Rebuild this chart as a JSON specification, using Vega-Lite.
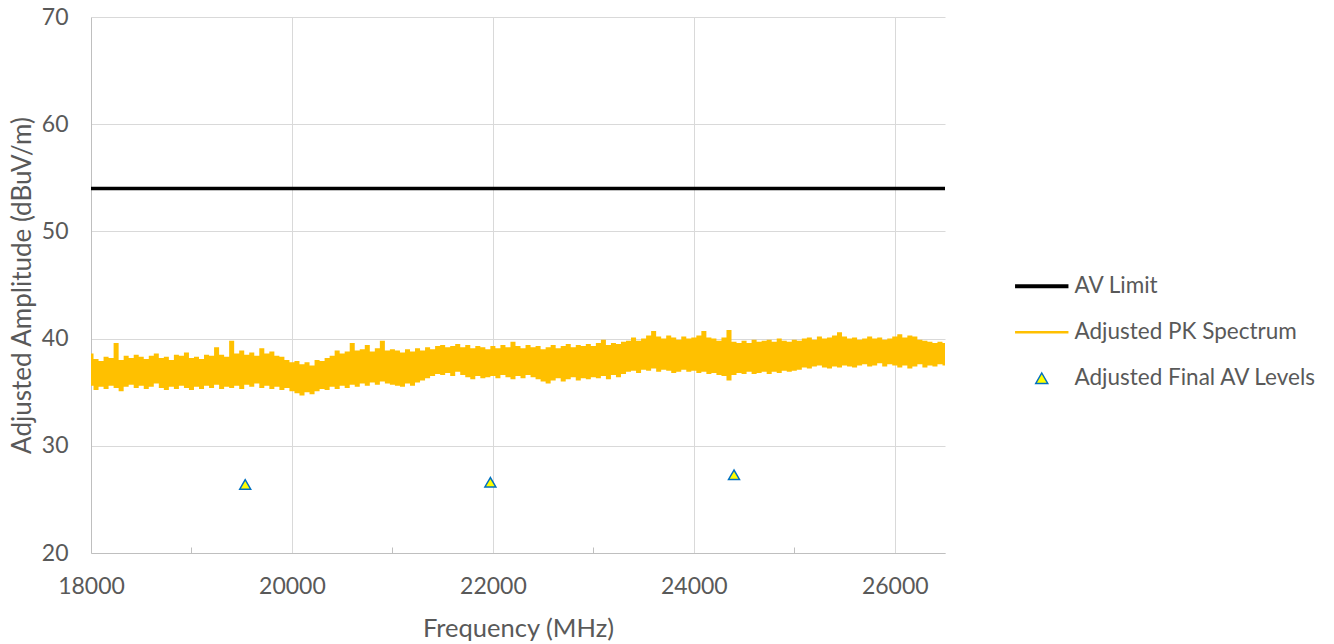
{
  "$schema": "https://vega.github.io/schema/vega-lite/v6.json",
  "width": 854,
  "height": 536,
  "autosize": {"type": "none"},
  "padding": {"left": 91, "top": 17, "right": 389, "bottom": 91},
  "config": {
    "font": "Lato",
    "view": {"stroke": null},
    "legend": {
      "orient": "none",
      "legendX": 939.5,
      "legendY": 258,
      "padding": 0,
      "symbolSize": 900,
      "rowPadding": 23,
      "labelOffset": 21.5,
      "labelFontSize": 22.5,
      "labelColor": "#595959",
      "labelLimit": 400,
      "symbolStrokeWidth": 1.5
    }
  },
  "datasets": {
    "spectrum": [
      {"f":18000,"lo":35.6,"hi":38.6},{"f":18050,"lo":35.2,"hi":38.1},{"f":18100,"lo":35.5,"hi":37.9},{"f":18150,"lo":35.3,"hi":38.3},
      {"f":18200,"lo":35.6,"hi":38.2},{"f":18250,"lo":35.4,"hi":39.6},{"f":18300,"lo":35.1,"hi":38.0},{"f":18350,"lo":35.5,"hi":38.4},
      {"f":18400,"lo":35.7,"hi":38.2},{"f":18450,"lo":35.4,"hi":38.5},{"f":18500,"lo":35.6,"hi":38.3},{"f":18550,"lo":35.3,"hi":38.1},
      {"f":18600,"lo":35.5,"hi":38.4},{"f":18650,"lo":35.8,"hi":38.6},{"f":18700,"lo":35.4,"hi":38.2},{"f":18750,"lo":35.2,"hi":38.3},
      {"f":18800,"lo":35.5,"hi":38.0},{"f":18850,"lo":35.3,"hi":38.5},{"f":18900,"lo":35.6,"hi":38.4},{"f":18950,"lo":35.4,"hi":38.7},
      {"f":19000,"lo":35.2,"hi":38.2},{"f":19050,"lo":35.5,"hi":38.3},{"f":19100,"lo":35.3,"hi":38.1},{"f":19150,"lo":35.6,"hi":38.5},
      {"f":19200,"lo":35.4,"hi":38.4},{"f":19250,"lo":35.7,"hi":39.2},{"f":19300,"lo":35.3,"hi":38.5},{"f":19350,"lo":35.5,"hi":38.3},
      {"f":19400,"lo":35.4,"hi":39.8},{"f":19450,"lo":35.6,"hi":38.6},{"f":19500,"lo":35.3,"hi":38.9},{"f":19550,"lo":35.7,"hi":38.5},
      {"f":19600,"lo":35.5,"hi":38.7},{"f":19650,"lo":35.8,"hi":38.4},{"f":19700,"lo":35.4,"hi":39.1},{"f":19750,"lo":35.6,"hi":38.6},
      {"f":19800,"lo":35.3,"hi":38.8},{"f":19850,"lo":35.5,"hi":38.4},{"f":19900,"lo":35.2,"hi":38.3},{"f":19950,"lo":35.4,"hi":38.0},
      {"f":20000,"lo":35.1,"hi":37.8},{"f":20050,"lo":34.9,"hi":37.9},{"f":20100,"lo":34.7,"hi":37.6},{"f":20150,"lo":35.0,"hi":37.8},
      {"f":20200,"lo":34.8,"hi":37.5},{"f":20250,"lo":35.1,"hi":38.0},{"f":20300,"lo":35.3,"hi":37.9},{"f":20350,"lo":35.2,"hi":38.2},
      {"f":20400,"lo":35.5,"hi":38.4},{"f":20450,"lo":35.3,"hi":38.9},{"f":20500,"lo":35.6,"hi":38.6},{"f":20550,"lo":35.4,"hi":38.8},
      {"f":20600,"lo":35.7,"hi":39.6},{"f":20650,"lo":35.5,"hi":38.9},{"f":20700,"lo":35.8,"hi":39.0},{"f":20750,"lo":35.6,"hi":39.4},
      {"f":20800,"lo":35.9,"hi":38.8},{"f":20850,"lo":35.7,"hi":39.1},{"f":20900,"lo":36.0,"hi":39.8},{"f":20950,"lo":35.8,"hi":38.9},
      {"f":21000,"lo":35.7,"hi":39.0},{"f":21050,"lo":35.6,"hi":38.9},{"f":21100,"lo":35.5,"hi":38.7},{"f":21150,"lo":35.8,"hi":39.0},
      {"f":21200,"lo":35.6,"hi":38.8},{"f":21250,"lo":35.9,"hi":39.1},{"f":21300,"lo":36.1,"hi":38.9},{"f":21350,"lo":36.3,"hi":39.2},
      {"f":21400,"lo":36.5,"hi":39.0},{"f":21450,"lo":36.7,"hi":39.3},{"f":21500,"lo":36.6,"hi":39.4},{"f":21550,"lo":36.8,"hi":39.2},
      {"f":21600,"lo":36.5,"hi":39.3},{"f":21650,"lo":36.9,"hi":39.5},{"f":21700,"lo":36.6,"hi":39.2},{"f":21750,"lo":36.4,"hi":39.4},
      {"f":21800,"lo":36.2,"hi":39.1},{"f":21850,"lo":36.5,"hi":39.3},{"f":21900,"lo":36.3,"hi":39.2},{"f":21950,"lo":36.4,"hi":39.0},
      {"f":22000,"lo":36.5,"hi":39.3},{"f":22050,"lo":36.3,"hi":39.1},{"f":22100,"lo":36.6,"hi":39.4},{"f":22150,"lo":36.4,"hi":39.2},
      {"f":22200,"lo":36.2,"hi":39.7},{"f":22250,"lo":36.5,"hi":39.3},{"f":22300,"lo":36.3,"hi":39.1},{"f":22350,"lo":36.6,"hi":39.4},
      {"f":22400,"lo":36.4,"hi":39.2},{"f":22450,"lo":36.2,"hi":39.3},{"f":22500,"lo":36.0,"hi":39.0},{"f":22550,"lo":35.8,"hi":39.2},
      {"f":22600,"lo":36.1,"hi":39.4},{"f":22650,"lo":36.3,"hi":39.1},{"f":22700,"lo":36.0,"hi":39.3},{"f":22750,"lo":36.2,"hi":39.5},
      {"f":22800,"lo":36.4,"hi":39.2},{"f":22850,"lo":36.1,"hi":39.4},{"f":22900,"lo":36.3,"hi":39.3},{"f":22950,"lo":36.2,"hi":39.5},
      {"f":23000,"lo":36.4,"hi":39.3},{"f":23050,"lo":36.3,"hi":39.6},{"f":23100,"lo":36.5,"hi":39.9},{"f":23150,"lo":36.2,"hi":39.4},
      {"f":23200,"lo":36.6,"hi":39.6},{"f":23250,"lo":36.4,"hi":39.5},{"f":23300,"lo":36.7,"hi":39.7},{"f":23350,"lo":36.9,"hi":39.8},
      {"f":23400,"lo":37.0,"hi":40.1},{"f":23450,"lo":36.8,"hi":39.8},{"f":23500,"lo":37.1,"hi":40.0},{"f":23550,"lo":37.0,"hi":40.3},
      {"f":23600,"lo":37.2,"hi":40.7},{"f":23650,"lo":36.9,"hi":40.2},{"f":23700,"lo":37.1,"hi":40.0},{"f":23750,"lo":37.0,"hi":40.3},
      {"f":23800,"lo":36.8,"hi":40.1},{"f":23850,"lo":36.9,"hi":39.9},{"f":23900,"lo":37.1,"hi":40.2},{"f":23950,"lo":36.9,"hi":40.0},
      {"f":24000,"lo":37.0,"hi":40.1},{"f":24050,"lo":36.8,"hi":40.3},{"f":24100,"lo":36.9,"hi":40.7},{"f":24150,"lo":36.7,"hi":40.1},
      {"f":24200,"lo":36.8,"hi":40.0},{"f":24250,"lo":36.6,"hi":39.8},{"f":24300,"lo":36.5,"hi":40.1},{"f":24350,"lo":36.1,"hi":40.8},
      {"f":24400,"lo":36.6,"hi":39.7},{"f":24450,"lo":36.8,"hi":39.6},{"f":24500,"lo":36.7,"hi":39.8},{"f":24550,"lo":36.9,"hi":39.6},
      {"f":24600,"lo":36.7,"hi":39.9},{"f":24650,"lo":36.8,"hi":39.7},{"f":24700,"lo":36.9,"hi":39.8},{"f":24750,"lo":36.7,"hi":39.9},
      {"f":24800,"lo":36.9,"hi":39.7},{"f":24850,"lo":36.8,"hi":40.0},{"f":24900,"lo":37.0,"hi":39.8},{"f":24950,"lo":36.9,"hi":39.7},
      {"f":25000,"lo":37.0,"hi":39.9},{"f":25050,"lo":37.1,"hi":39.8},{"f":25100,"lo":37.3,"hi":40.0},{"f":25150,"lo":37.2,"hi":40.1},
      {"f":25200,"lo":37.4,"hi":39.9},{"f":25250,"lo":37.5,"hi":40.2},{"f":25300,"lo":37.3,"hi":40.0},{"f":25350,"lo":37.2,"hi":40.1},
      {"f":25400,"lo":37.4,"hi":40.3},{"f":25450,"lo":37.3,"hi":40.6},{"f":25500,"lo":37.5,"hi":40.2},{"f":25550,"lo":37.4,"hi":40.0},
      {"f":25600,"lo":37.3,"hi":40.1},{"f":25650,"lo":37.5,"hi":39.9},{"f":25700,"lo":37.6,"hi":40.0},{"f":25750,"lo":37.4,"hi":40.2},
      {"f":25800,"lo":37.5,"hi":40.0},{"f":25850,"lo":37.7,"hi":40.1},{"f":25900,"lo":37.4,"hi":39.9},{"f":25950,"lo":37.6,"hi":40.0},
      {"f":26000,"lo":37.5,"hi":40.2},{"f":26050,"lo":37.3,"hi":40.4},{"f":26100,"lo":37.5,"hi":40.1},{"f":26150,"lo":37.2,"hi":40.3},
      {"f":26200,"lo":37.4,"hi":40.2},{"f":26250,"lo":37.6,"hi":39.9},{"f":26300,"lo":37.3,"hi":39.8},{"f":26350,"lo":37.5,"hi":39.7},
      {"f":26400,"lo":37.4,"hi":39.6},{"f":26450,"lo":37.6,"hi":39.7},{"f":26500,"lo":37.5,"hi":39.6}
    ],
    "limit": [{"level": 54}],
    "finals": [
      {"f": 19535, "level": 26.4},
      {"f": 21975, "level": 26.6},
      {"f": 24400, "level": 27.3}
    ]
  },
  "layer": [
    {
      "data": {"name": "spectrum"},
      "mark": {"type": "area", "interpolate": "step", "clip": true, "opacity": 1},
      "encoding": {
        "x": {
          "field": "f", "type": "quantitative",
          "scale": {"domain": [18000, 26500], "nice": false, "zero": false},
          "axis": {
            "title": "Frequency (MHz)",
            "values": [18000, 19000, 20000, 21000, 22000, 23000, 24000, 25000, 26000],
            "labelExpr": "datum.value % 2000 === 0 ? format(datum.value, 'd') : ''",
            "labelFlush": false,
            "labelFontSize": 23, "labelColor": "#595959", "labelPadding": 28,
            "titleFontSize": 25.5, "titleColor": "#595959", "titleFontWeight": "normal", "titlePadding": 18,
            "domainColor": "#bfbfbf", "domainWidth": 1,
            "tickSize": -6,
            "tickColor": {"condition": {"test": "datum.value % 2000 !== 0", "value": "#bfbfbf"}, "value": "transparent"},
            "grid": true,
            "gridColor": {"condition": {"test": "datum.value % 2000 === 0 && datum.value > 18000", "value": "#d9d9d9"}, "value": "transparent"},
            "gridWidth": 1
          }
        },
        "y": {
          "field": "lo", "type": "quantitative",
          "scale": {"domain": [20, 70], "nice": false, "zero": false},
          "axis": {
            "title": "Adjusted Amplitude (dBuV/m)",
            "values": [20, 30, 40, 50, 60, 70],
            "labelFontSize": 23, "labelColor": "#595959", "labelPadding": 23,
            "ticks": false, "tickSize": 0,
            "titleFontSize": 26, "titleColor": "#595959", "titleFontWeight": "normal", "titlePadding": 6,
            "domainColor": "#bfbfbf",
            "grid": true, "gridColor": "#d9d9d9"
          }
        },
        "y2": {"field": "hi"},
        "fill": {
          "datum": "Adjusted PK Spectrum", "type": "nominal",
          "scale": {
            "domain": ["AV Limit", "Adjusted PK Spectrum", "Adjusted Final AV Levels"],
            "range": ["#000000", "#FFC000", "#FFFF00"]
          },
          "legend": {
            "title": null,
            "encode": {
              "symbols": {
                "update": {
                  "shape": {"signal": "datum.value === 'Adjusted Final AV Levels' ? 'M0,-0.35L0.4,0.35L-0.4,0.35Z' : 'M-1.78,0H1.78'"},
                  "strokeWidth": {"signal": "datum.value === 'AV Limit' ? 4 : datum.value === 'Adjusted PK Spectrum' ? 2.5 : 1.5"}
                }
              }
            }
          }
        }
      }
    },
    {
      "data": {"name": "limit"},
      "mark": {"type": "rule", "strokeWidth": 3.5},
      "encoding": {
        "y": {"field": "level", "type": "quantitative"},
        "stroke": {
          "datum": "AV Limit", "type": "nominal",
          "scale": {
            "domain": ["AV Limit", "Adjusted PK Spectrum", "Adjusted Final AV Levels"],
            "range": ["#000000", "#FFC000", "#0070C0"]
          },
          "legend": {
            "title": null,
            "encode": {
              "symbols": {
                "update": {
                  "shape": {"signal": "datum.value === 'Adjusted Final AV Levels' ? 'M0,-0.35L0.4,0.35L-0.4,0.35Z' : 'M-1.78,0H1.78'"},
                  "strokeWidth": {"signal": "datum.value === 'AV Limit' ? 4 : datum.value === 'Adjusted PK Spectrum' ? 2.5 : 1.5"}
                }
              }
            }
          }
        }
      }
    },
    {
      "data": {"name": "finals"},
      "mark": {"type": "point", "shape": "triangle-up", "filled": true, "size": 120, "strokeWidth": 1.5, "opacity": 1},
      "encoding": {
        "x": {"field": "f", "type": "quantitative"},
        "y": {"field": "level", "type": "quantitative"},
        "fill": {"datum": "Adjusted Final AV Levels", "type": "nominal"},
        "stroke": {"datum": "Adjusted Final AV Levels", "type": "nominal"}
      }
    }
  ]
}
